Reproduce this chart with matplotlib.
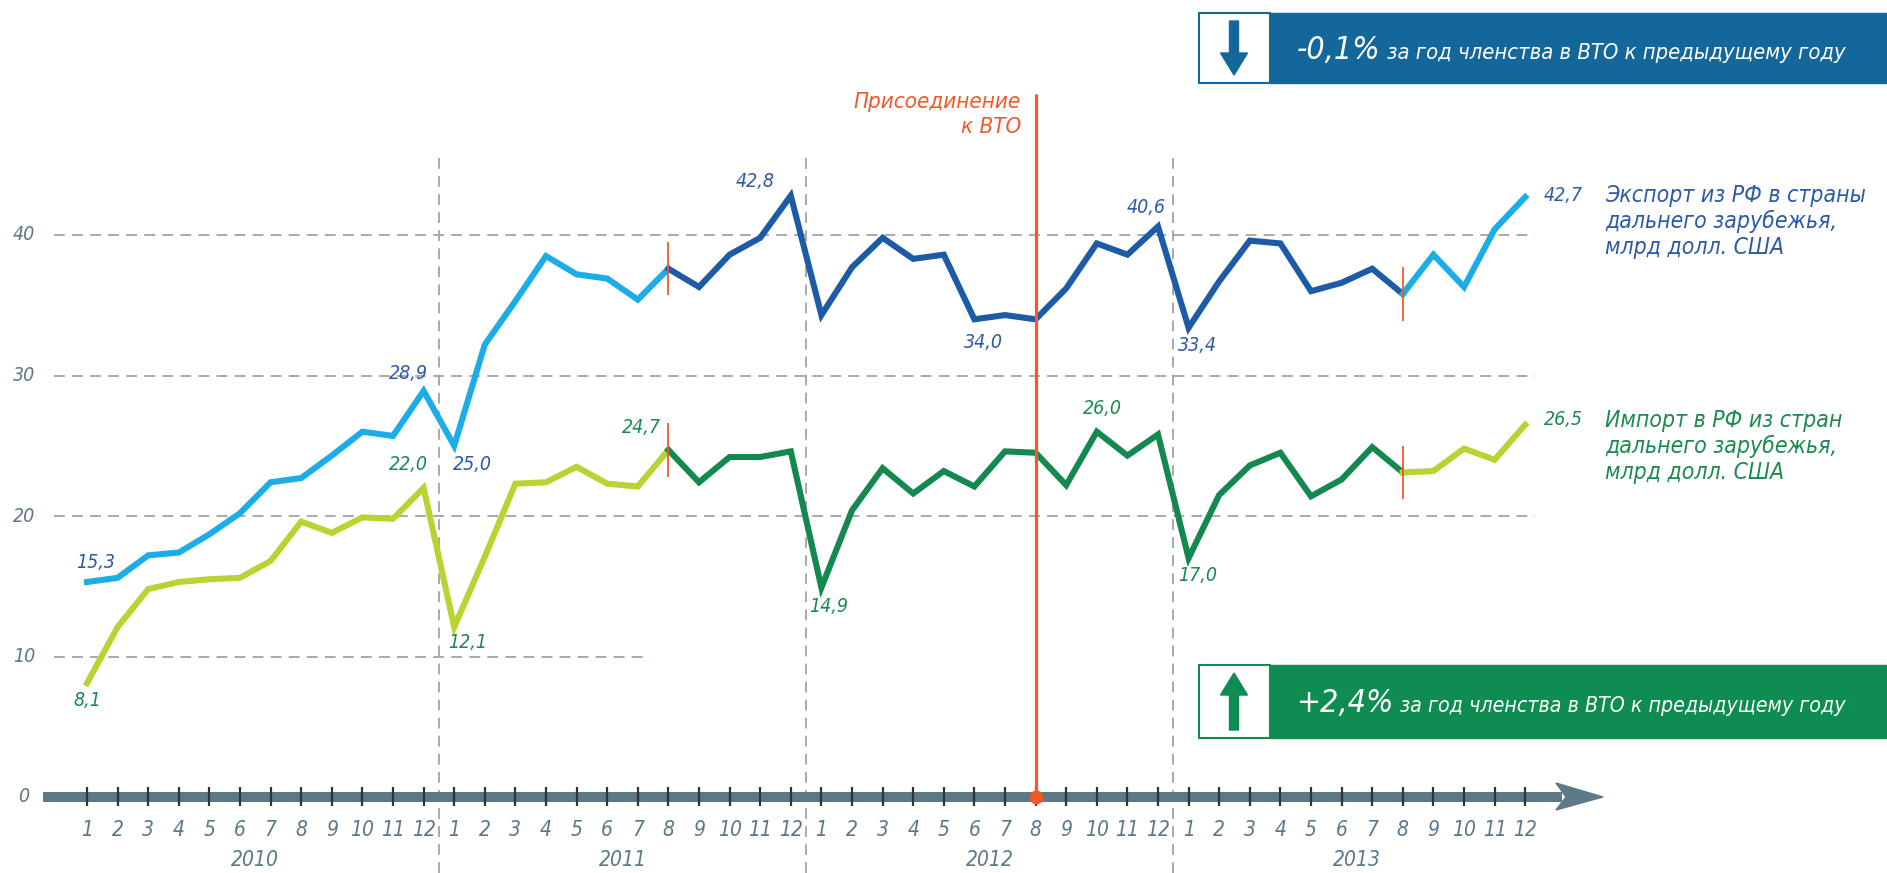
"""
Export / import of Russia with far-abroad countries, 2010-2013, WTO accession
"""
import matplotlib
matplotlib.use("Agg")
import matplotlib.pyplot as plt
import numpy as np
from matplotlib import font_manager
from matplotlib.patches import Rectangle, FancyArrow, Polygon

W, H = 1887, 873

years = ["2010", "2011", "2012", "2013"]
month_labels = [str(m) for m in range(1, 13)] * len(years)

# billion USD, monthly
export = [15.3, 15.6, 17.2, 17.4, 18.7, 20.2, 22.4, 22.7, 24.3, 26.0, 25.7, 28.9,
          25.0, 32.2, 35.3, 38.5, 37.2, 36.9, 35.4, 37.6, 36.3, 38.6, 39.8, 42.8,
          34.3, 37.7, 39.8, 38.3, 38.6, 34.0, 34.3, 34.0, 36.2, 39.4, 38.6, 40.6,
          33.4, 36.7, 39.6, 39.4, 36.0, 36.6, 37.6, 35.8, 38.6, 36.3, 40.4, 42.7]
imports = [8.1, 12.1, 14.8, 15.3, 15.5, 15.6, 16.8, 19.6, 18.8, 19.9, 19.8, 22.0,
           12.1, 17.1, 22.3, 22.4, 23.5, 22.3, 22.1, 24.7, 22.4, 24.2, 24.2, 24.6,
           14.9, 20.4, 23.4, 21.6, 23.2, 22.1, 24.6, 24.5, 22.2, 26.0, 24.3, 25.8,
           17.0, 21.5, 23.6, 24.5, 21.4, 22.6, 24.9, 23.1, 23.2, 24.8, 24.0, 26.5]

period_start = 19   # 2011-8
accession = 31      # 2012-8
period_end = 43     # 2013-8

# (month index, label, dx px, dy px)
export_labels = [(0, "15,3", 9, 20), (11, "28,9", -15, 17), (12, "25,0", 18, -19),
                 (23, "42,8", -36, 14), (31, "34,0", -52, -23), (35, "40,6", -12, 19),
                 (36, "33,4", 9, -18), (47, "42,7", 38, 2)]
import_labels = [(0, "8,1", 0, -17), (11, "22,0", -15, 23), (12, "12,1", 13, -16),
                 (19, "24,7", -27, 22), (24, "14,9", 7, -19), (33, "26,0", 6, 23),
                 (36, "17,0", 9, -17), (47, "26,5", 38, 5)]

export_title = ["Экспорт из РФ в страны", "дальнего зарубежья,", "млрд долл. США"]
import_title = ["Импорт в РФ из стран", "дальнего зарубежья,", "млрд долл. США"]
badge_text = "за год членства в ВТО к предыдущему году"

yticks = [0, 10, 20, 30, 40]

C_EXP_L, C_EXP_D = "#1cade8", "#1d5ba6"
C_IMP_L, C_IMP_D = "#b8d433", "#13894f"
C_EXP_T, C_IMP_T = "#2c5aa5", "#1b8a4f"
C_RED = "#f0592a"
C_AXIS = "#5b7987"
C_GRID = "#a3a3a3"

fm = font_manager.fontManager
if any(f.name == "Liberation Sans Narrow" for f in fm.ttflist):
    FONT = dict(family="Liberation Sans Narrow", style="italic")
else:
    FONT = dict(family="DejaVu Sans", style="italic", stretch="condensed")

# pixel layout -> data coordinates: x0 = 87 px, 30.6 px / month; y0 = 797 px, 14.05 px / unit
PX_X0, PX_DX = 87, 30.6
PX_Y0, PX_DY = 797, 14.05


def dx(px):
    return (px - PX_X0) / PX_DX


def dy(py):
    return (PX_Y0 - py) / PX_DY


fig = plt.figure(figsize=(W / 100, H / 100), dpi=100)
ax = fig.add_axes([0, 0, 1, 1])
ax.set_xlim(dx(0), dx(W))
ax.set_ylim(dy(H), dy(0))
ax.axis("off")

x = np.arange(len(export))

# grid
ax.hlines([20, 30, 40], dx(54), dx(1535), colors=C_GRID, lw=1.3, linestyles=(0, (6, 4)), zorder=1)
ax.hlines([10], dx(54), dx(650), colors=C_GRID, lw=1.3, linestyles=(0, (6, 4)), zorder=1)
ax.vlines([11.5, 23.5, 35.5], dy(H), dy(153), colors=C_GRID, lw=1.3, linestyles=(0, (6, 4)), zorder=1)

for v in yticks:
    ax.text(dx(24), v, str(v), ha="center", va="center", fontsize=14, color=C_AXIS, **FONT)

# series
for vals, c_l, c_d in [(export, C_EXP_L, C_EXP_D), (imports, C_IMP_L, C_IMP_D)]:
    ax.plot(x[:period_start + 1], vals[:period_start + 1], color=c_l, lw=4.4, zorder=3,
            solid_joinstyle="miter")
    ax.plot(x[period_start:period_end + 1], vals[period_start:period_end + 1], color=c_d,
            lw=4.4, zorder=3, solid_joinstyle="miter")
    ax.plot(x[period_end:], vals[period_end:], color=c_l, lw=4.4, zorder=3,
            solid_joinstyle="miter")
    for i in (period_start, period_end):
        ax.vlines(i, vals[i] - 1.9, vals[i] + 1.9, colors=C_RED, lw=1.3, zorder=4)

for vals, labels, col in [(export, export_labels, C_EXP_T), (imports, import_labels, C_IMP_T)]:
    for i, txt, ox, oy in labels:
        ax.annotate(txt, (i, vals[i]), xytext=(ox, oy), textcoords="offset pixels",
                    ha="center", va="center", fontsize=14, color=col, **FONT)

for lines, base, col in [(export_title, 202, C_EXP_T), (import_title, 427, C_IMP_T)]:
    for k, line in enumerate(lines):
        ax.text(dx(1605), dy(base + 26 * k), line, ha="left", va="baseline",
                fontsize=16.5, color=col, **FONT)

# time axis
ax.plot([dx(43), dx(1562)], [0, 0], color=C_AXIS, lw=7.2, solid_capstyle="butt", zorder=5)
ax.add_patch(Polygon([(dx(1556), dy(783)), (dx(1603), 0), (dx(1556), dy(810)), (dx(1566), 0)],
                     closed=True, color=C_AXIS, zorder=5))
ax.vlines(x, dy(806), dy(787), colors="#333333", lw=1.6, zorder=6)
for i, m in enumerate(month_labels):
    ax.text(i, dy(830), m, ha="center", va="center", fontsize=15, color=C_AXIS, **FONT)
for k, yr in enumerate(years):
    ax.text(12 * k + 5.5, dy(860), yr, ha="center", va="center", fontsize=15, color=C_AXIS, **FONT)

# WTO accession
ax.vlines(accession, 0, dy(94), colors=C_RED, lw=2.3, zorder=7)
ax.plot(accession, 0, "o", color=C_RED, ms=9, zorder=8)
ax.text(dx(1021), dy(92), "Присоединение\nк ВТО", ha="right", va="top", fontsize=16,
        color=C_RED, linespacing=1.3, **FONT)


def fx(px):
    return px / W


def fy(py):
    return 1 - py / H


renderer = fig.canvas.get_renderer()


def badge(top, bottom, color, arrow_down, big, rest, base):
    fig.patches.append(Rectangle((fx(1270), fy(bottom)), fx(W) - fx(1270), fy(top) - fy(bottom),
                                 transform=fig.transFigure, color=color, zorder=1))
    fig.patches.append(Rectangle((fx(1199), fy(bottom)), fx(1270) - fx(1199), fy(top) - fy(bottom),
                                 transform=fig.transFigure, facecolor="white", edgecolor=color,
                                 lw=1.5, zorder=2))
    if arrow_down:
        y_from, y_len = fy(top + 8), -(bottom - top - 16) / H
    else:
        y_from, y_len = fy(bottom - 8), (bottom - top - 16) / H
    fig.patches.append(FancyArrow(fx(1234), y_from, 0, y_len, width=9 / W, head_width=27 / W,
                                  head_length=22 / H, length_includes_head=True,
                                  transform=fig.transFigure, color=color, zorder=3))
    t1 = fig.text(fx(1297), fy(base), big, ha="left", va="baseline", fontsize=23,
                  color="white", **FONT)
    start = t1.get_window_extent(renderer).x1 + 6
    t2 = fig.text(fx(start), fy(base), rest, ha="left", va="baseline", fontsize=18,
                  color="white", **FONT)
    width = t2.get_window_extent(renderer).width
    t2.set_fontsize(18 * (1845 - start) / width)


badge(13, 83, "#14679a", True, "-0,1%", badge_text, 59)
badge(665, 738, "#0e8c52", False, "+2,4%", badge_text, 712)

fig.savefig("out.png", dpi=100, facecolor="white")
